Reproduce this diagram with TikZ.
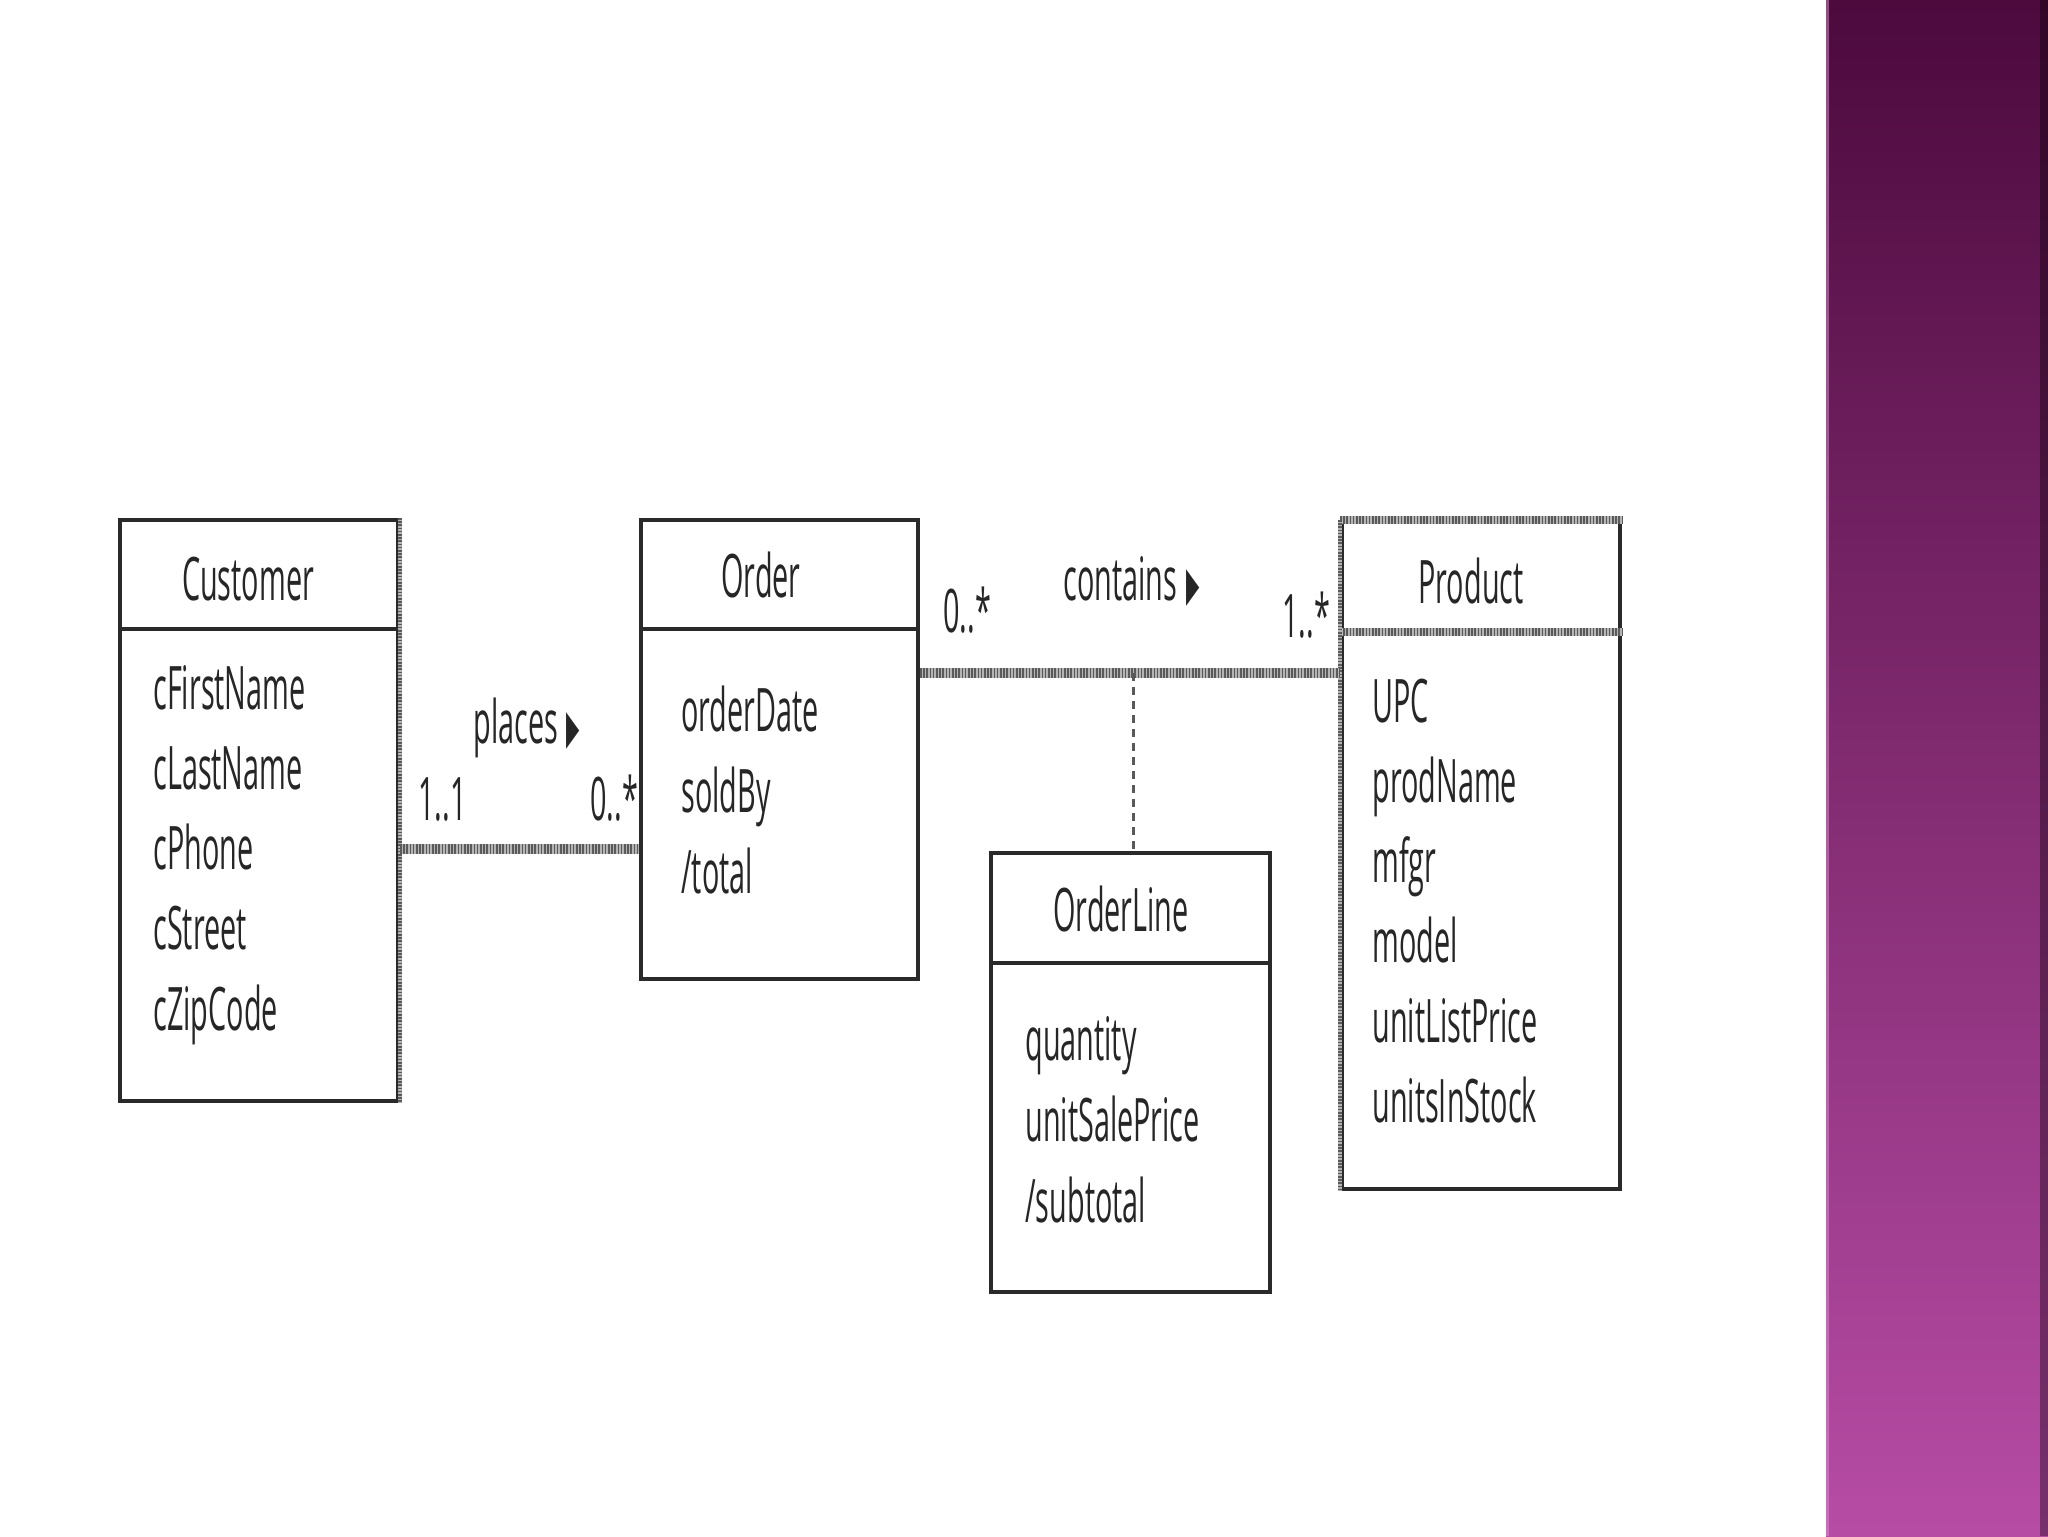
\documentclass[tikz,border=0pt]{standalone}
\usepackage{fontspec}
\setmainfont{Open Sans}[FakeStretch=0.48]
\newfontfamily\trifont{DejaVu Sans}[FakeStretch=0.36]
\definecolor{linec}{HTML}{2A2A2A}
\definecolor{txtc}{HTML}{262626}
\definecolor{hlight}{HTML}{B4B4B4}
\definecolor{hdark}{HTML}{5A5A5A}
\definecolor{ptop}{HTML}{4C0A3D}
\definecolor{pmid}{HTML}{7E2D71}
\definecolor{pbot}{HTML}{B74CA5}
\begin{document}
\begin{tikzpicture}[x=0.5pt,y=-0.5pt,
  cls/.style={draw=linec, line width=2pt, inner sep=0pt},
  ttl/.style={anchor=base, inner sep=0pt, text=txtc, font=\fontsize{30}{36}\selectfont},
  attr/.style={anchor=base west, inner sep=0pt, text=txtc, font=\fontsize{30}{36}\selectfont},
  mult/.style={anchor=base west, inner sep=0pt, text=txtc, font=\fontsize{30}{36}\selectfont},
  assoc/.style={draw=hlight, line width=5pt, postaction={draw=hdark, line width=5pt, dash pattern=on 0.8pt off 0.8pt}},
  hatch/.style={draw=hlight, line width=#1, postaction={draw=hdark, line width=#1, dash pattern=on 0.8pt off 0.8pt}},
  dashline/.style={draw=hdark, line width=1.5pt, dash pattern=on 4pt off 3pt}
]
\fill[white] (0,0) rectangle (2048,1536);
\useasboundingbox (0,0) rectangle (2048,1536);

% purple side bar
\shade[top color=ptop, middle color=pmid, bottom color=pbot] (1826,0) rectangle (2048,1536);
\fill[black, opacity=0.35] (2040,0) rectangle (2048,1536);
\fill[pbot!60!white, opacity=0.5] (1826,0) rectangle (1829,1536);

% Customer
\node[cls, minimum width=139pt, minimum height=54.5pt] (custH) at (259,574.5) {};
\node[cls, minimum width=139pt, minimum height=236pt] (custB) at (259,865) {};
\draw[hatch=1.6pt] (custH.north east) -- (custB.south east);
\node[ttl] (custT) at (248,600) {Customer};
\node[attr] (c1) at (153,709) {cFirstName};
\node[attr] (c2) at (153,789) {cLastName};
\node[attr] (c3) at (153,869) {cPhone};
\node[attr] (c4) at (153,949) {cStreet};
\node[attr] (c5) at (153,1030) {cZipCode};

% Order
\node[cls, minimum width=138.5pt, minimum height=54.5pt] (ordH) at (779.5,574.5) {};
\node[cls, minimum width=138.5pt, minimum height=175pt] (ordB) at (779.5,804) {};
\node[ttl] (ordT) at (761,597) {Order};
\node[attr] (o1) at (681,731) {orderDate};
\node[attr] (o2) at (681,812) {soldBy};
\node[attr] (o3) at (681,893) {/total};

% Product
\node[cls, minimum width=139pt, minimum height=56pt] (prodH) at (1481,578) {};
\node[cls, minimum width=139pt, minimum height=277.5pt] (prodB) at (1481,911.5) {};
\draw[hatch=4pt] (prodH.north west) -- (prodH.north east);
\draw[hatch=4pt] (prodB.north west) -- (prodB.north east);
\draw[hatch=2pt] (prodH.north west) -- (prodB.south west);
\node[ttl] (prodT) at (1471,603) {Product};
\node[attr] (p1) at (1372,722) {UPC};
\node[attr] (p2) at (1372,802) {prodName};
\node[attr] (p3) at (1372,882) {mfgr};
\node[attr] (p4) at (1372,962) {model};
\node[attr] (p5) at (1372,1042) {unitListPrice};
\node[attr] (p6) at (1372,1122) {unitsInStock};

% OrderLine
\node[cls, minimum width=139.5pt, minimum height=55pt] (olH) at (1130.5,908) {};
\node[cls, minimum width=139.5pt, minimum height=164.5pt] (olB) at (1130.5,1127.5) {};
\node[ttl] (olT) at (1121,931) {OrderLine};
\node[attr] (l1) at (1025,1060) {quantity};
\node[attr] (l2) at (1025,1141) {unitSalePrice};
\node[attr] (l3) at (1025,1222) {/subtotal};

% associations
\draw[assoc] (custB.east |- 0,849) -- (ordB.west |- 0,849);
\draw[assoc] (ordB.east |- 0,673) -- (prodB.west |- 0,673);
\coordinate (mid) at (1133,673);
\draw[dashline] (mid) -- (mid |- olH.north);

% labels
\node[mult] (lplaces) at (473,743) {places\kern4.5pt{\trifont\fontsize{24}{28}\selectfont ▶}};
\node[mult] (m11) at (418,820) {1..1};
\node[mult] (m0a) at (590,820) {0..*};
\node[mult] (m0b) at (943,632) {0..*};
\node[mult] (lcont) at (1063,600) {contains\kern4.5pt{\trifont\fontsize{24}{28}\selectfont ▶}};
\node[mult] (m1s) at (1282,637) {1..*};
\end{tikzpicture}
\end{document}
